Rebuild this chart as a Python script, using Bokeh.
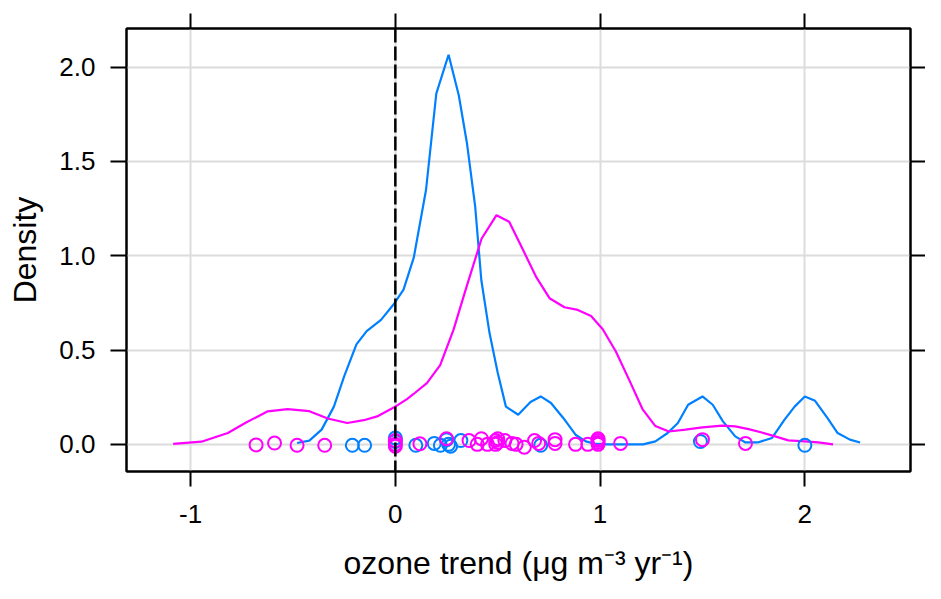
from bokeh.plotting import figure
from bokeh.models import Range1d, FixedTicker, LinearAxis, Span
from bokeh.embed import file_html
from bokeh.resources import INLINE

# ---- data ----
blue_x = [-0.48, -0.42, -0.36, -0.30, -0.25, -0.19, -0.14, -0.07, -0.01, 0.04, 0.09, 0.15,
          0.20, 0.26, 0.31, 0.35, 0.39, 0.42, 0.46, 0.50, 0.54, 0.60, 0.66, 0.71, 0.76,
          0.82, 0.88, 0.93, 0.98, 1.04, 1.10, 1.15, 1.21, 1.27, 1.33, 1.38, 1.43, 1.50,
          1.55, 1.60, 1.66, 1.71, 1.77, 1.84, 1.90, 1.95, 2.00, 2.05, 2.11, 2.16, 2.22, 2.27]
blue_y = [0.007, 0.02, 0.078, 0.20, 0.36, 0.53, 0.60, 0.66, 0.74, 0.82, 0.99, 1.35,
          1.86, 2.066, 1.85, 1.595, 1.26, 0.87, 0.59, 0.38, 0.20, 0.157, 0.225, 0.254, 0.219,
          0.14, 0.051, 0.016, 0.002, 0.0, 0.0, 0.0, 0.0, 0.016, 0.06, 0.113, 0.21, 0.254,
          0.21, 0.122, 0.042, 0.01, 0.01, 0.034, 0.13, 0.20, 0.254, 0.231, 0.14, 0.06, 0.025, 0.01]

mag_x = [-1.085, -0.947, -0.818, -0.729, -0.623, -0.526, -0.42, -0.33, -0.235, -0.154, -0.089,
         -0.008, 0.057, 0.089, 0.154, 0.219, 0.284, 0.348, 0.421, 0.494, 0.556, 0.624, 0.689,
         0.753, 0.826, 0.891, 0.956, 1.013, 1.077, 1.142, 1.207, 1.27, 1.336, 1.417, 1.499,
         1.596, 1.66, 1.725, 1.79, 1.855, 1.919, 2.0, 2.065, 2.138]
mag_y = [0.002, 0.014, 0.06, 0.116, 0.175, 0.187, 0.176, 0.137, 0.113, 0.128, 0.148,
         0.195, 0.24, 0.267, 0.325, 0.42, 0.607, 0.836, 1.09, 1.215, 1.18, 1.03, 0.885,
         0.775, 0.727, 0.713, 0.681, 0.61, 0.492, 0.342, 0.187, 0.097, 0.068, 0.078, 0.09,
         0.099, 0.095, 0.081, 0.063, 0.042, 0.021, 0.016, 0.01, 0.0]

blue_pts_x = [-0.21, -0.15, 0.0, 0.0, 0.10, 0.19, 0.22, 0.25, 0.26, 0.27, 0.32, 0.71, 1.49, 2.0]
blue_pts_y = [-0.005, -0.005, 0.034, 0.015, -0.005, 0.005, -0.005, 0.025, 0.0, -0.01, 0.02,
              -0.005, 0.015, -0.005]

mag_pts_x = [-0.68, -0.59, -0.48, -0.345, 0.0, 0.0, 0.0, 0.12, 0.25, 0.36, 0.40, 0.42, 0.45,
             0.49, 0.49, 0.50, 0.50, 0.535, 0.57, 0.59, 0.63, 0.68, 0.70, 0.78, 0.78, 0.88,
             0.94, 0.99, 0.99, 0.99, 0.99, 1.10, 1.50, 1.71]
mag_pts_y = [-0.003, 0.007, -0.005, -0.005, 0.0, -0.01, 0.02, 0.003, 0.03, 0.02, 0.0, 0.03,
             0.0, 0.02, 0.0, 0.03, 0.01, 0.02, 0.005, 0.0, -0.015, 0.02, 0.005, 0.025, 0.005,
             0.0, 0.0, 0.03, 0.02, 0.01, 0.0, 0.005, 0.025, 0.005]

x_ticks = [-1, 0, 1, 2]
x_tick_labels = ["-1", "0", "1", "2"]
y_ticks = [0.0, 0.5, 1.0, 1.5, 2.0]
y_tick_labels = ["0.0", "0.5", "1.0", "1.5", "2.0"]

BLUE = "#0080ff"
MAGENTA = "#ff00ff"
FONT = "Liberation Sans"

p = figure(width=925, height=583, output_backend="svg", toolbar_location=None,
           x_range=Range1d(-1.313, 2.516), y_range=Range1d(-0.144, 2.205),
           min_border_left=126, min_border_right=15, min_border_top=28,
           min_border_bottom=111)
p.background_fill_color = "white"
p.border_fill_color = "white"
p.outline_line_color = "black"
p.outline_line_width = 2

# extra axes: ticks only, on top and right
top_axis = LinearAxis()
right_axis = LinearAxis()
p.add_layout(top_axis, "above")
p.add_layout(right_axis, "right")

for ax in p.xaxis:
    ax.ticker = FixedTicker(ticks=x_ticks)
    ax.major_label_overrides = {t: l for t, l in zip(x_ticks, x_tick_labels)}
for ax in p.yaxis:
    ax.ticker = FixedTicker(ticks=y_ticks)
    ax.major_label_overrides = {t: l for t, l in zip(y_ticks, y_tick_labels)}

for ax in list(p.xaxis) + list(p.yaxis):
    ax.axis_line_color = "black"
    ax.axis_line_width = 2
    ax.major_tick_line_color = "black"
    ax.major_tick_line_width = 2
    ax.major_tick_in = 0
    ax.major_tick_out = 15
    ax.minor_tick_line_color = None
    ax.major_label_text_font = FONT
    ax.major_label_text_font_size = "26px"
    ax.major_label_text_color = "black"
    ax.axis_label_text_font = FONT
    ax.axis_label_text_font_style = "normal"
    ax.axis_label_text_color = "black"
    ax.axis_label_text_font_size = "32px"

for ax in (top_axis, right_axis):
    ax.major_label_text_font_size = "1px"
    ax.major_label_text_color = None
    ax.major_label_standoff = 0

bottom = p.below[0]
left = p.left[0]
bottom.major_label_standoff = 18
bottom.axis_label = "ozone trend (\u03bcg m\u207b\u00b3 yr\u207b\u00b9)"
bottom.axis_label_standoff = 19
left.major_tick_out = 16
left.major_label_standoff = 15
left.axis_label = "Density"
left.axis_label_standoff = 13

p.xgrid.ticker = FixedTicker(ticks=x_ticks)
p.ygrid.ticker = FixedTicker(ticks=y_ticks)
p.xgrid.grid_line_color = "#dcdcdc"
p.ygrid.grid_line_color = "#dcdcdc"
p.xgrid.grid_line_width = 2
p.ygrid.grid_line_width = 2

p.line(blue_x, blue_y, line_color=BLUE, line_width=2.2)
p.line(mag_x, mag_y, line_color=MAGENTA, line_width=2.2)

p.scatter(blue_pts_x, blue_pts_y, marker="circle", size=13, fill_color=None,
          line_color=BLUE, line_width=2)
p.scatter(mag_pts_x, mag_pts_y, marker="circle", size=13, fill_color=None,
          line_color=MAGENTA, line_width=2)

p.add_layout(Span(location=0, dimension="height", line_color="black",
                  line_width=2.5, line_dash="14 4"))

open("out.html", "w").write(file_html(p, INLINE))
